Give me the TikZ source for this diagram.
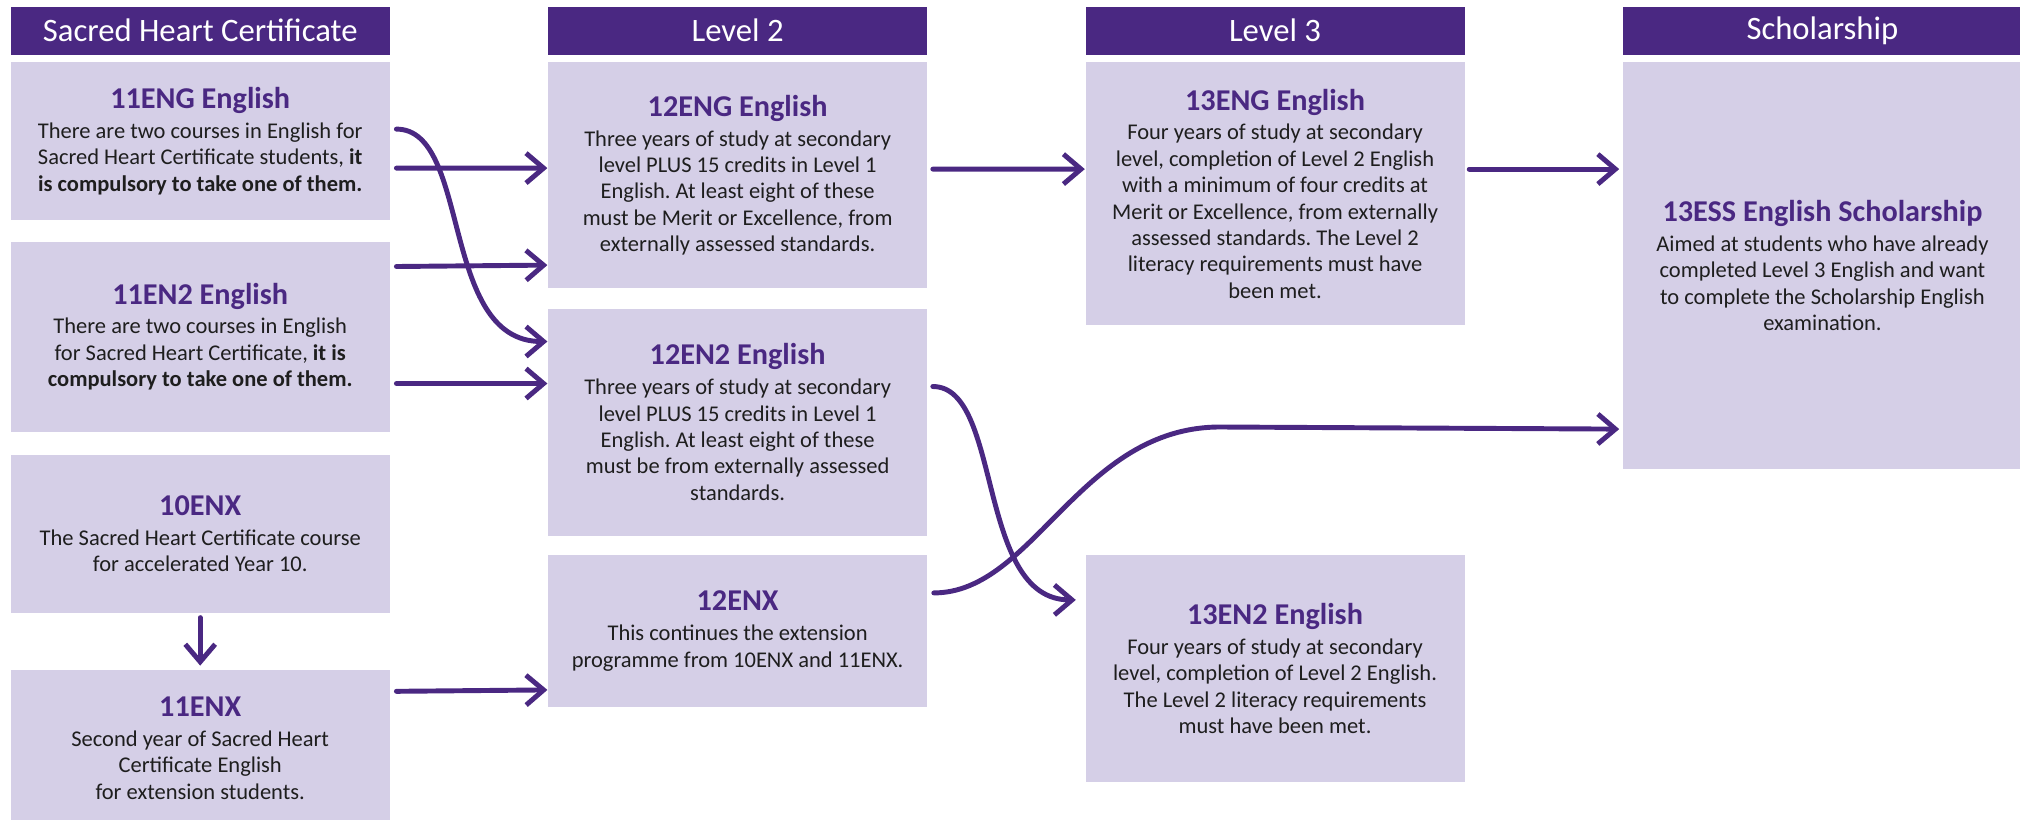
\documentclass[tikz,border=0pt]{standalone}
\usepackage{fontspec}
\setmainfont{Carlito}
\usetikzlibrary{positioning}
\usetikzlibrary{arrows.meta}
\frenchspacing

\definecolor{shpurple}{HTML}{4A2882}
\definecolor{shlilac}{HTML}{D5CFE7}
\definecolor{shtext}{HTML}{1E1E1E}

\tikzset{
  hdr/.style={fill=shpurple, text=white, minimum width=3.79cm, minimum height=0.48cm, inner sep=0pt, font=\fontsize{9.3}{11}\selectfont},
  course/.style={fill=shlilac, text=shtext, minimum width=3.79cm, inner sep=0pt, align=center, font=\fontsize{6.4}{7.5}\selectfont},
  arr/.style={draw=shpurple, line width=1.4pt, line cap=round, -{Straight Barb[length=5pt,width=8.5pt]}}
}
\newcommand{\ctitle}[1]{{\fontsize{8.6}{10}\selectfont\bfseries\color{shpurple}#1}}

\begin{document}
\begin{tikzpicture}
  \useasboundingbox (0,0) rectangle (20.2,-8.2);

  % column headers
  \node[hdr, anchor=north west] (hsh) at (0.10,-0.06) {Sacred Heart Certificate};
  \node[hdr, right=1.57cm of hsh] (hl2) {Level 2};
  \node[hdr, right=1.57cm of hl2] (hl3) {Level 3};
  \node[hdr, minimum width=3.99cm, right=1.57cm of hl3] (hsc) {Scholarship};

  % sacred heart certificate
  \node[course, minimum height=1.58cm, below=0.06cm of hsh] (eng11) {\ctitle{11ENG English}\\[1pt]
    There are two courses in English for\\ Sacred Heart Certificate students, \textbf{it}\\ \textbf{is compulsory to take one of them.}};
  \node[course, minimum height=1.90cm, below=0.20cm of eng11] (en211) {\ctitle{11EN2 English}\\[1pt]
    There are two courses in English\\ for Sacred Heart Certificate, \textbf{it is}\\ \textbf{compulsory to take one of them.}};
  \node[course, minimum height=1.58cm, below=0.22cm of en211] (enx10) {\ctitle{10ENX}\\[1pt]
    The Sacred Heart Certificate course\\ for accelerated Year 10.};
  \node[course, minimum height=1.56cm, below=0.56cm of enx10] (enx11) {\ctitle{11ENX}\\[1pt]
    Second year of Sacred Heart\\ Certificate English\\ for extension students.};

  % level 2
  \node[course, minimum height=2.26cm, below=0.06cm of hl2] (eng12) {\ctitle{12ENG English}\\[1pt]
    Three years of study at secondary\\ level PLUS 15 credits in Level 1\\ English. At least eight of these\\ must be Merit or Excellence, from\\ externally assessed standards.};
  \node[course, minimum height=2.27cm, below=0.19cm of eng12] (en212) {\ctitle{12EN2 English}\\[1pt]
    Three years of study at secondary\\ level PLUS 15 credits in Level 1\\ English. At least eight of these\\ must be from externally assessed\\ standards.};
  \node[course, minimum height=1.52cm, below=0.18cm of en212] (enx12) {\ctitle{12ENX}\\[1pt]
    This continues the extension\\ programme from 10ENX and 11ENX.};

  % level 3
  \node[course, minimum height=2.63cm, below=0.06cm of hl3] (eng13) {\ctitle{13ENG English}\\[1pt]
    Four years of study at secondary\\ level, completion of Level 2 English\\ with a minimum of four credits at\\ Merit or Excellence, from externally\\ assessed standards. The Level 2\\ literacy requirements must have\\ been met.};
  \node[course, minimum height=2.27cm, right=1.57cm of enx12.north east, anchor=north west] (en213) {\ctitle{13EN2 English}\\[1pt]
    Four years of study at secondary\\ level, completion of Level 2 English.\\ The Level 2 literacy requirements\\ must have been met.};

  % scholarship
  \node[course, minimum width=3.99cm, minimum height=4.07cm, below=0.06cm of hsc] (ess13) {\ctitle{13ESS English Scholarship}\\[1pt]
    Aimed at students who have already\\ completed Level 3 English and want\\ to complete the Scholarship English\\ examination.};

  \coordinate (bend) at (12.2,-4.27);

  \draw[arr] ([xshift=0.06cm,yshift=-0.27cm]eng11.east) -- ([yshift=0.07cm]eng12.west);
  \draw[arr] ([xshift=0.06cm,yshift=0.70cm]en211.east) -- ([yshift=-0.90cm]eng12.west);
  \draw[arr] ([xshift=0.06cm,yshift=-0.47cm]en211.east) -- ([yshift=0.385cm]en212.west);
  \draw[arr] ([xshift=0.06cm,yshift=0.12cm]eng11.east) .. controls +(0.75,0) and +(-1.08,0) .. ([yshift=0.805cm]en212.west);
  \draw[arr] ([yshift=-0.04cm]enx10.south) -- ([yshift=0.04cm]enx11.north);
  \draw[arr] ([xshift=0.06cm,yshift=0.57cm]enx11.east) -- ([yshift=-0.59cm]enx12.west);

  \draw[arr] ([xshift=0.05cm,yshift=0.06cm]eng12.east) -- ([yshift=0.245cm]eng13.west);
  \draw[arr] ([xshift=0.05cm,yshift=0.355cm]en212.east) .. controls +(0.7,0) and +(-1.0,0) .. ([xshift=-0.09cm,yshift=0.685cm]en213.west);
  \draw[arr] ([xshift=0.06cm,yshift=0.38cm]enx12.east) .. controls +(1.0,0) and +(-1.4,0) .. (bend) -- ([xshift=-0.03cm,yshift=-1.635cm]ess13.west);

  \draw[arr] ([xshift=0.04cm,yshift=0.245cm]eng13.east) -- ([xshift=-0.03cm,yshift=0.965cm]ess13.west);
\end{tikzpicture}
\end{document}
